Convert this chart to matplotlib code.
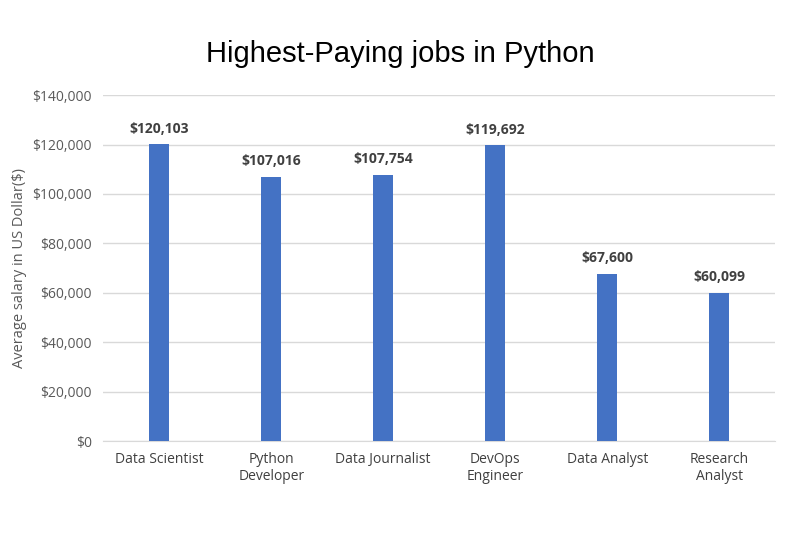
import matplotlib
matplotlib.use("Agg")
import matplotlib.pyplot as plt
from matplotlib.ticker import FuncFormatter

categories = ["Data Scientist", "Python\nDeveloper", "Data Journalist", "DevOps\nEngineer", "Data Analyst", "Research\nAnalyst"]
salaries = [120103, 107016, 107754, 119692, 67600, 60099]

fig = plt.figure(figsize=(8, 5.33), dpi=100)
ax = fig.add_axes([0.129, 0.1726, 0.84, 0.649])
x = range(len(categories))
ax.bar(x, salaries, width=0.18, color="#4472C4", zorder=3)
for xi, v in zip(x, salaries):
    ax.text(xi, v + 3500, f"${v:,}", ha="center", va="bottom", fontsize=10,
            fontweight="bold", color="#404040", family="Open Sans")
ax.set_xlim(-0.5, len(categories) - 0.5)
ax.set_ylim(0, 140000)
ax.set_yticks(range(0, 140001, 20000))
ax.yaxis.set_major_formatter(FuncFormatter(lambda v, p: f"${int(v):,}"))
ax.grid(axis="y", color="#D9D9D9", linewidth=1, zorder=0)
ax.set_xticks(list(x))
ax.set_xticklabels(categories, fontsize=10, color="#404040", family="Open Sans", va="top")
for lab in ax.get_yticklabels():
    lab.set_fontsize(10); lab.set_color("#595959"); lab.set_family("Open Sans")
ax.tick_params(length=0, pad=8)
for s in ["top", "right", "left"]:
    ax.spines[s].set_visible(False)
ax.spines["bottom"].set_color("#D9D9D9")
ax.set_ylabel("Average salary in US Dollar($)", fontsize=10.5, color="#595959", family="Open Sans")
fig.suptitle("Highest-Paying jobs in Python", y=0.925, fontsize=21, family="Liberation Sans")
fig.savefig("out.png", dpi=100, facecolor="white")
